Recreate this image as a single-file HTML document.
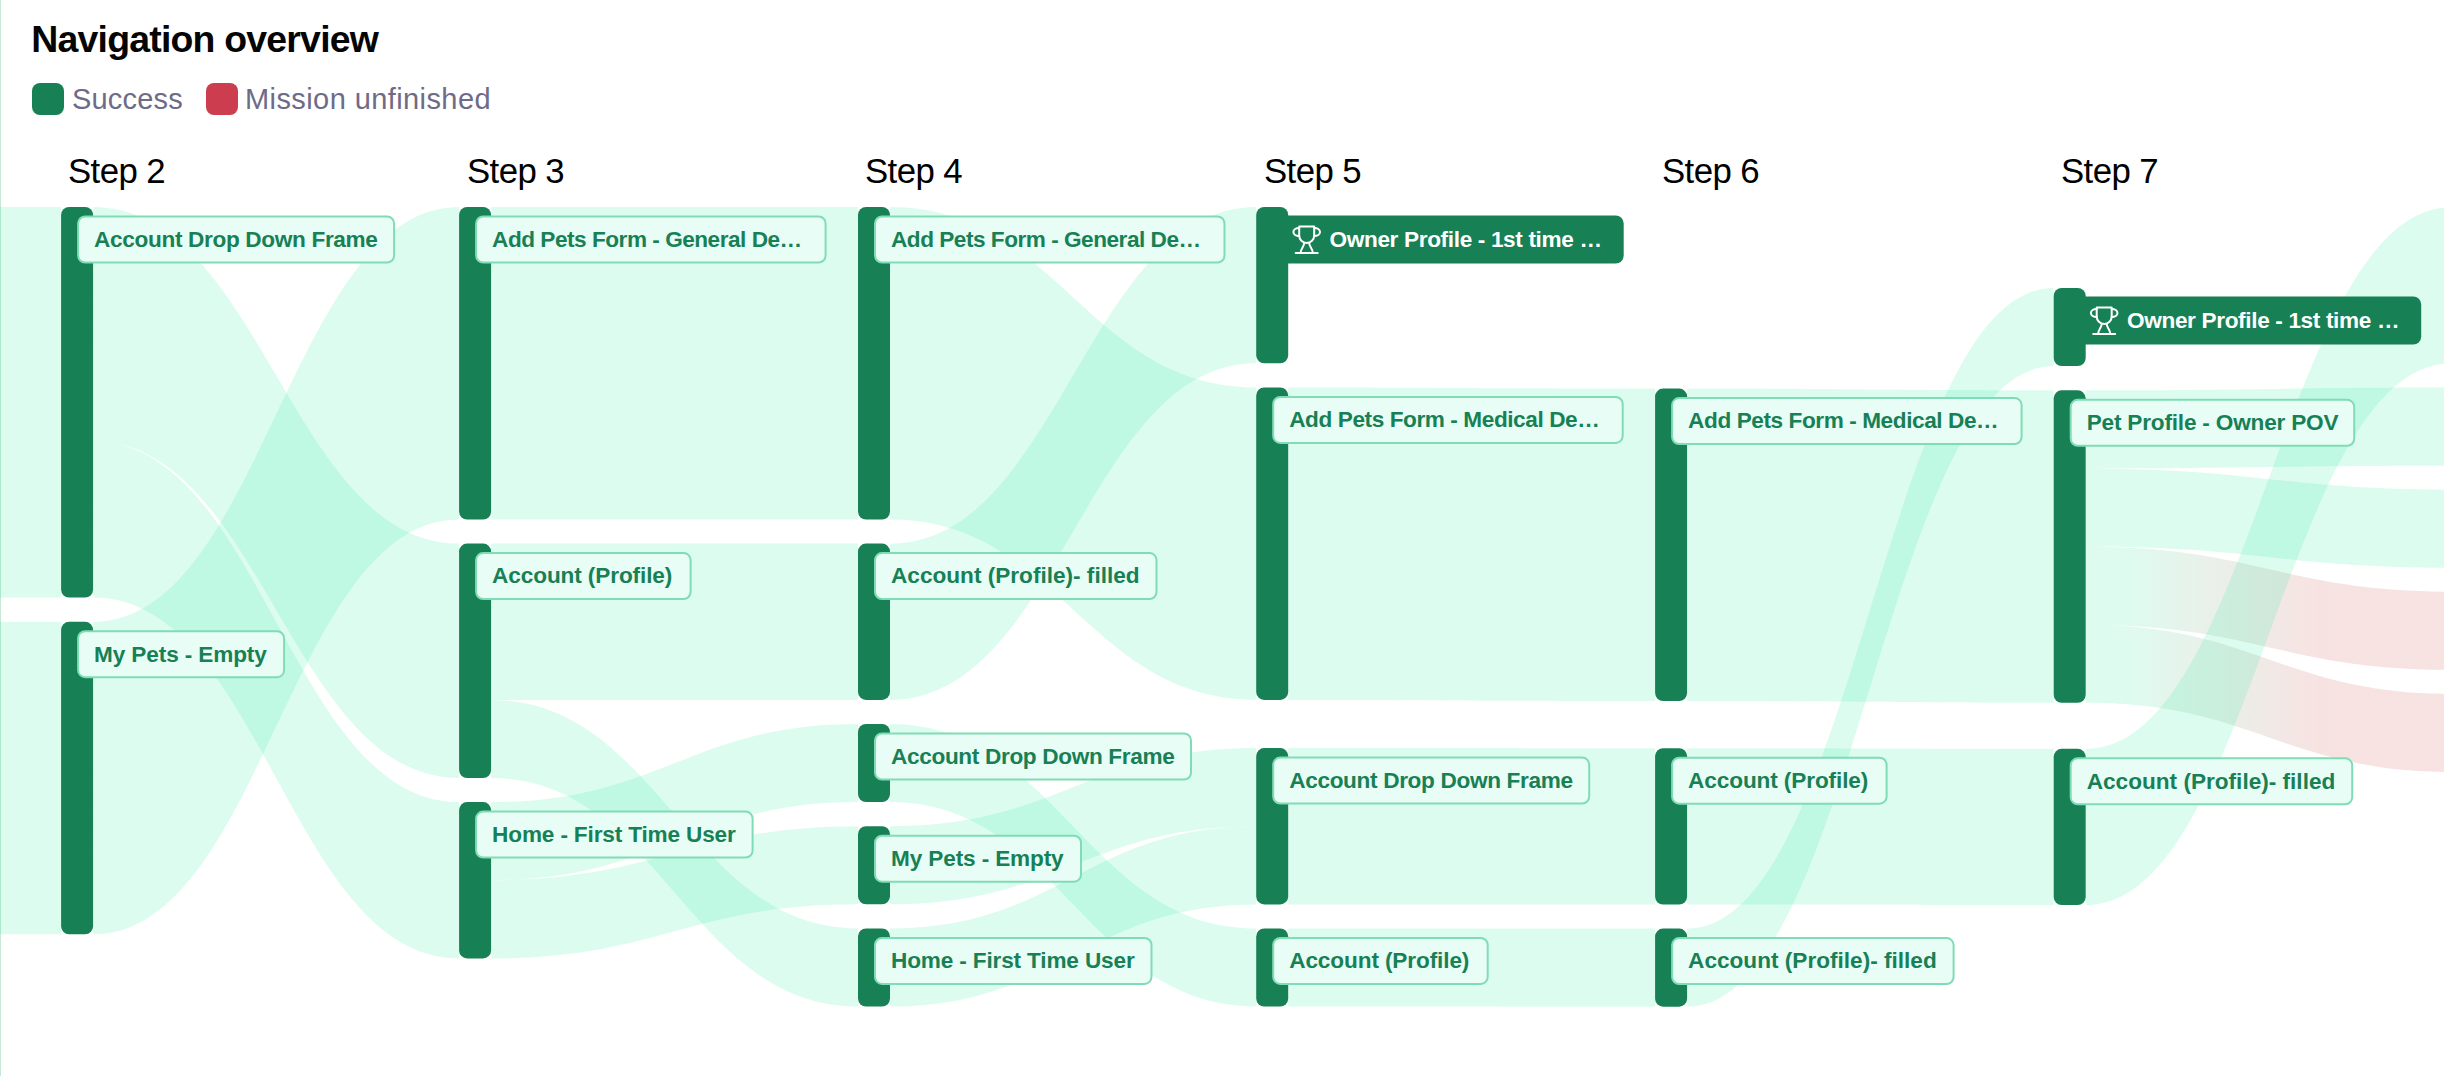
<!DOCTYPE html>
<html><head><meta charset="utf-8"><style>
html,body{margin:0;padding:0;background:#fff;width:2444px;height:1076px;overflow:hidden}
svg{display:block;position:absolute;left:0;top:0}
.lb{font-family:"Liberation Sans",sans-serif;font-weight:bold;font-size:22.6px}
.t{font-family:"Liberation Sans",sans-serif}
</style></head><body>
<svg width="2444" height="1076" viewBox="0 0 2444 1076">
<defs><linearGradient id="g23" gradientUnits="userSpaceOnUse" x1="2085.7" y1="0" x2="2452.2" y2="0"><stop offset="0.08" stop-color="rgb(0,235,140)" stop-opacity="0.135"/><stop offset="0.65" stop-color="rgb(200,40,40)" stop-opacity="0.135"/></linearGradient><linearGradient id="g24" gradientUnits="userSpaceOnUse" x1="2085.7" y1="0" x2="2452.2" y2="0"><stop offset="0.08" stop-color="rgb(0,235,140)" stop-opacity="0.135"/><stop offset="0.65" stop-color="rgb(200,40,40)" stop-opacity="0.135"/></linearGradient></defs>
<rect x="0" y="0" width="1" height="1076" fill="rgba(0,150,70,0.22)"/>
<text x="31.3" y="52.2" class="t" font-weight="bold" font-size="37.4" fill="#050505" textLength="347.55" lengthAdjust="spacing">Navigation overview</text>
<rect x="32" y="83" width="32" height="32" rx="8" fill="#178055"/>
<text x="72" y="108.7" class="t" font-size="29" fill="#6e6b87" textLength="110.71" lengthAdjust="spacing">Success</text>
<rect x="206" y="83" width="32" height="32" rx="8" fill="#cc3d4f"/>
<text x="245" y="108.7" class="t" font-size="29" fill="#6e6b87" textLength="245.58" lengthAdjust="spacing">Mission unfinished</text>
<text x="68" y="182.9" class="t" font-size="34.8" fill="#000" textLength="97.61" lengthAdjust="spacing">Step 2</text>
<text x="467" y="182.9" class="t" font-size="34.8" fill="#000" textLength="97.61" lengthAdjust="spacing">Step 3</text>
<text x="865" y="182.9" class="t" font-size="34.8" fill="#000" textLength="97.61" lengthAdjust="spacing">Step 4</text>
<text x="1264" y="182.9" class="t" font-size="34.8" fill="#000" textLength="97.61" lengthAdjust="spacing">Step 5</text>
<text x="1662" y="182.9" class="t" font-size="34.8" fill="#000" textLength="97.61" lengthAdjust="spacing">Step 6</text>
<text x="2061" y="182.9" class="t" font-size="34.8" fill="#000" textLength="97.61" lengthAdjust="spacing">Step 7</text>
<g><path d="M-10,207C22.7,207 28.4,207 61.1,207L61.1,597.6C28.4,597.6 22.7,597.6 -10,597.6Z" fill="rgba(0,235,140,0.135)"/>
<path d="M-10,621.8C22.7,621.8 28.4,621.8 61.1,621.8L61.1,934.3C28.4,934.3 22.7,934.3 -10,934.3Z" fill="rgba(0,235,140,0.135)"/>
<path d="M93.1,207C261.5,207 290.7,543.6 459.1,543.6L459.1,778C290.7,778 261.5,441.4 93.1,441.4Z" fill="rgba(0,235,140,0.135)"/>
<path d="M93.1,441.4C261.5,441.4 290.7,802.1 459.1,802.1L459.1,958.4C290.7,958.4 261.5,597.6 93.1,597.6Z" fill="rgba(0,235,140,0.135)"/>
<path d="M93.1,621.8C261.5,621.8 290.7,207 459.1,207L459.1,519.5C290.7,519.5 261.5,934.3 93.1,934.3Z" fill="rgba(0,235,140,0.135)"/>
<path d="M491.1,207C659.9,207 689.2,207 858,207L858,519.5C689.2,519.5 659.9,519.5 491.1,519.5Z" fill="rgba(0,235,140,0.135)"/>
<path d="M491.1,543.6C659.9,543.6 689.2,543.6 858,543.6L858,699.9C689.2,699.9 659.9,699.9 491.1,699.9Z" fill="rgba(0,235,140,0.135)"/>
<path d="M491.1,699.9C659.9,699.9 689.2,928.4 858,928.4L858,1006.6C689.2,1006.6 659.9,778 491.1,778Z" fill="rgba(0,235,140,0.135)"/>
<path d="M491.1,802.1C659.9,802.1 689.2,724 858,724L858,802.1C689.2,802.1 659.9,880.2 491.1,880.2Z" fill="rgba(0,235,140,0.135)"/>
<path d="M491.1,880.2C659.9,880.2 689.2,826.2 858,826.2L858,904.3C689.2,904.3 659.9,958.4 491.1,958.4Z" fill="rgba(0,235,140,0.135)"/>
<path d="M890,207C1058.5,207 1087.7,387.4 1256.2,387.4L1256.2,699.9C1087.7,699.9 1058.5,519.5 890,519.5Z" fill="rgba(0,235,140,0.135)"/>
<path d="M890,543.6C1058.5,543.6 1087.7,207 1256.2,207L1256.2,363.3C1087.7,363.3 1058.5,699.9 890,699.9Z" fill="rgba(0,235,140,0.135)"/>
<path d="M890,724C1058.5,724 1087.7,928.4 1256.2,928.4L1256.2,1006.5C1087.7,1006.5 1058.5,802.1 890,802.1Z" fill="rgba(0,235,140,0.135)"/>
<path d="M890,826.2C1058.5,826.2 1087.7,748.1 1256.2,748.1L1256.2,826.2C1087.7,826.2 1058.5,904.3 890,904.3Z" fill="rgba(0,235,140,0.135)"/>
<path d="M890,928.4C1058.5,928.4 1087.7,826.2 1256.2,826.2L1256.2,904.4C1087.7,904.4 1058.5,1006.6 890,1006.6Z" fill="rgba(0,235,140,0.135)"/>
<path d="M1288.2,387.4C1457,387.4 1486.3,388.6 1655.1,388.6L1655.1,701.1C1486.3,701.1 1457,699.9 1288.2,699.9Z" fill="rgba(0,235,140,0.135)"/>
<path d="M1288.2,748.1C1457,748.1 1486.3,748.2 1655.1,748.2L1655.1,904.5C1486.3,904.5 1457,904.4 1288.2,904.4Z" fill="rgba(0,235,140,0.135)"/>
<path d="M1288.2,928.4C1457,928.4 1486.3,928.6 1655.1,928.6L1655.1,1006.7C1486.3,1006.7 1457,1006.5 1288.2,1006.5Z" fill="rgba(0,235,140,0.135)"/>
<path d="M1687.1,388.6C1855.7,388.6 1885.1,390.3 2053.7,390.3L2053.7,702.8C1885.1,702.8 1855.7,701.1 1687.1,701.1Z" fill="rgba(0,235,140,0.135)"/>
<path d="M1687.1,748.2C1855.7,748.2 1885.1,748.8 2053.7,748.8L2053.7,905.1C1885.1,905.1 1855.7,904.5 1687.1,904.5Z" fill="rgba(0,235,140,0.135)"/>
<path d="M1687.1,928.6C1855.7,928.6 1885.1,288 2053.7,288L2053.7,366.1C1885.1,366.1 1855.7,1006.7 1687.1,1006.7Z" fill="rgba(0,235,140,0.135)"/>
<path d="M2085.7,390.3C2254.3,390.3 2283.6,387.6 2452.2,387.6L2452.2,465.7C2283.6,465.7 2254.3,468.4 2085.7,468.4Z" fill="rgba(0,235,140,0.135)"/>
<path d="M2085.7,468.4C2254.3,468.4 2283.6,489.7 2452.2,489.7L2452.2,567.8C2283.6,567.8 2254.3,546.6 2085.7,546.6Z" fill="rgba(0,235,140,0.135)"/>
<path d="M2085.7,546.6C2254.3,546.6 2283.6,591.8 2452.2,591.8L2452.2,669.9C2283.6,669.9 2254.3,624.7 2085.7,624.7Z" fill="url(#g23)"/>
<path d="M2085.7,624.7C2254.3,624.7 2283.6,693.9 2452.2,693.9L2452.2,772C2283.6,772 2254.3,702.8 2085.7,702.8Z" fill="url(#g24)"/>
<path d="M2085.7,748.8C2254.3,748.8 2283.6,207 2452.2,207L2452.2,363.3C2283.6,363.3 2254.3,905.1 2085.7,905.1Z" fill="rgba(0,235,140,0.135)"/></g>
<g><rect x="61.1" y="207" width="32" height="390.6" rx="8" fill="#178055"/>
<rect x="61.1" y="621.8" width="32" height="312.5" rx="8" fill="#178055"/>
<rect x="459.1" y="207" width="32" height="312.5" rx="8" fill="#178055"/>
<rect x="459.1" y="543.6" width="32" height="234.4" rx="8" fill="#178055"/>
<rect x="459.1" y="802.1" width="32" height="156.3" rx="8" fill="#178055"/>
<rect x="858" y="207" width="32" height="312.5" rx="8" fill="#178055"/>
<rect x="858" y="543.6" width="32" height="156.3" rx="8" fill="#178055"/>
<rect x="858" y="724" width="32" height="78.1" rx="8" fill="#178055"/>
<rect x="858" y="826.2" width="32" height="78.1" rx="8" fill="#178055"/>
<rect x="858" y="928.4" width="32" height="78.1" rx="8" fill="#178055"/>
<rect x="1256.2" y="207" width="32" height="156.3" rx="8" fill="#178055"/>
<rect x="1256.2" y="387.4" width="32" height="312.5" rx="8" fill="#178055"/>
<rect x="1256.2" y="748.1" width="32" height="156.3" rx="8" fill="#178055"/>
<rect x="1256.2" y="928.4" width="32" height="78.1" rx="8" fill="#178055"/>
<rect x="1655.1" y="388.6" width="32" height="312.5" rx="8" fill="#178055"/>
<rect x="1655.1" y="748.2" width="32" height="156.3" rx="8" fill="#178055"/>
<rect x="1655.1" y="928.6" width="32" height="78.1" rx="8" fill="#178055"/>
<rect x="2053.7" y="288" width="32" height="78.1" rx="8" fill="#178055"/>
<rect x="2053.7" y="390.3" width="32" height="312.5" rx="8" fill="#178055"/>
<rect x="2053.7" y="748.8" width="32" height="156.3" rx="8" fill="#178055"/></g>
<g><rect x="78.1" y="216.5" width="316" height="46" rx="7" fill="#e8fdf5" stroke="#80dcb6" stroke-width="2"/>
<text x="94.1" y="246.8" class="lb" fill="#178055" textLength="283.8" lengthAdjust="spacing">Account Drop Down Frame</text>
<rect x="78.1" y="631.2" width="206" height="46" rx="7" fill="#e8fdf5" stroke="#80dcb6" stroke-width="2"/>
<text x="94.1" y="661.5" class="lb" fill="#178055" textLength="172.7" lengthAdjust="spacing">My Pets - Empty</text>
<rect x="476.1" y="216.5" width="349.5" height="46" rx="7" fill="#e8fdf5" stroke="#80dcb6" stroke-width="2"/>
<text x="492.1" y="246.8" class="lb" fill="#178055" textLength="310.1" lengthAdjust="spacing">Add Pets Form - General De…</text>
<rect x="476.1" y="553.1" width="214.5" height="46" rx="7" fill="#e8fdf5" stroke="#80dcb6" stroke-width="2"/>
<text x="492.1" y="583.4" class="lb" fill="#178055" textLength="180.2" lengthAdjust="spacing">Account (Profile)</text>
<rect x="476.1" y="811.6" width="276.5" height="46" rx="7" fill="#e8fdf5" stroke="#80dcb6" stroke-width="2"/>
<text x="492.1" y="841.9" class="lb" fill="#178055" textLength="243.7" lengthAdjust="spacing">Home - First Time User</text>
<rect x="875" y="216.5" width="349.5" height="46" rx="7" fill="#e8fdf5" stroke="#80dcb6" stroke-width="2"/>
<text x="891" y="246.8" class="lb" fill="#178055" textLength="310.1" lengthAdjust="spacing">Add Pets Form - General De…</text>
<rect x="875" y="553.1" width="281.5" height="46" rx="7" fill="#e8fdf5" stroke="#80dcb6" stroke-width="2"/>
<text x="891" y="583.4" class="lb" fill="#178055" textLength="248.6" lengthAdjust="spacing">Account (Profile)- filled</text>
<rect x="875" y="733.5" width="316" height="46" rx="7" fill="#e8fdf5" stroke="#80dcb6" stroke-width="2"/>
<text x="891" y="763.8" class="lb" fill="#178055" textLength="283.8" lengthAdjust="spacing">Account Drop Down Frame</text>
<rect x="875" y="835.7" width="206" height="46" rx="7" fill="#e8fdf5" stroke="#80dcb6" stroke-width="2"/>
<text x="891" y="866" class="lb" fill="#178055" textLength="172.7" lengthAdjust="spacing">My Pets - Empty</text>
<rect x="875" y="937.9" width="276.5" height="46" rx="7" fill="#e8fdf5" stroke="#80dcb6" stroke-width="2"/>
<text x="891" y="968.2" class="lb" fill="#178055" textLength="243.7" lengthAdjust="spacing">Home - First Time User</text>
<rect x="1272.2" y="215.5" width="351.5" height="48" rx="8" fill="#178055"/>
<g transform="translate(1288.2,218.5)" fill="none" stroke="#fff" stroke-width="2" stroke-linecap="round" stroke-linejoin="round"><path d="M11,8H26V17A7.5,7.5 0 0 1 11,17Z"/><path d="M11,9.5A5.8,4 0 0 0 11,17.5"/><path d="M26,9.5A5.8,4 0 0 1 26,17.5"/><path d="M16,24.5C16,28 12.5,30 12.5,34M21,24.5C21,28 24.5,30 24.5,34"/><path d="M7.5,34.5H29.5"/></g>
<text x="1329.5" y="246.8" class="lb" fill="#fff" textLength="272.5" lengthAdjust="spacing">Owner Profile - 1st time …</text>
<rect x="1273.2" y="396.9" width="349.5" height="46" rx="7" fill="#e8fdf5" stroke="#80dcb6" stroke-width="2"/>
<text x="1289.2" y="427.2" class="lb" fill="#178055" textLength="310.6" lengthAdjust="spacing">Add Pets Form - Medical De…</text>
<rect x="1273.2" y="757.6" width="316" height="46" rx="7" fill="#e8fdf5" stroke="#80dcb6" stroke-width="2"/>
<text x="1289.2" y="787.9" class="lb" fill="#178055" textLength="283.8" lengthAdjust="spacing">Account Drop Down Frame</text>
<rect x="1273.2" y="937.9" width="214.5" height="46" rx="7" fill="#e8fdf5" stroke="#80dcb6" stroke-width="2"/>
<text x="1289.2" y="968.2" class="lb" fill="#178055" textLength="180.2" lengthAdjust="spacing">Account (Profile)</text>
<rect x="1672.1" y="398.1" width="349.5" height="46" rx="7" fill="#e8fdf5" stroke="#80dcb6" stroke-width="2"/>
<text x="1688.1" y="428.4" class="lb" fill="#178055" textLength="310.6" lengthAdjust="spacing">Add Pets Form - Medical De…</text>
<rect x="1672.1" y="757.7" width="214.5" height="46" rx="7" fill="#e8fdf5" stroke="#80dcb6" stroke-width="2"/>
<text x="1688.1" y="788" class="lb" fill="#178055" textLength="180.2" lengthAdjust="spacing">Account (Profile)</text>
<rect x="1672.1" y="938.1" width="281.5" height="46" rx="7" fill="#e8fdf5" stroke="#80dcb6" stroke-width="2"/>
<text x="1688.1" y="968.4" class="lb" fill="#178055" textLength="248.6" lengthAdjust="spacing">Account (Profile)- filled</text>
<rect x="2069.7" y="296.5" width="351.5" height="48" rx="8" fill="#178055"/>
<g transform="translate(2085.7,299.5)" fill="none" stroke="#fff" stroke-width="2" stroke-linecap="round" stroke-linejoin="round"><path d="M11,8H26V17A7.5,7.5 0 0 1 11,17Z"/><path d="M11,9.5A5.8,4 0 0 0 11,17.5"/><path d="M26,9.5A5.8,4 0 0 1 26,17.5"/><path d="M16,24.5C16,28 12.5,30 12.5,34M21,24.5C21,28 24.5,30 24.5,34"/><path d="M7.5,34.5H29.5"/></g>
<text x="2127" y="327.8" class="lb" fill="#fff" textLength="272.5" lengthAdjust="spacing">Owner Profile - 1st time …</text>
<rect x="2070.7" y="399.8" width="283.5" height="46" rx="7" fill="#e8fdf5" stroke="#80dcb6" stroke-width="2"/>
<text x="2086.7" y="430.1" class="lb" fill="#178055" textLength="251.8" lengthAdjust="spacing">Pet Profile - Owner POV</text>
<rect x="2070.7" y="758.3" width="281.5" height="46" rx="7" fill="#e8fdf5" stroke="#80dcb6" stroke-width="2"/>
<text x="2086.7" y="788.6" class="lb" fill="#178055" textLength="248.6" lengthAdjust="spacing">Account (Profile)- filled</text></g>
</svg></body></html>
